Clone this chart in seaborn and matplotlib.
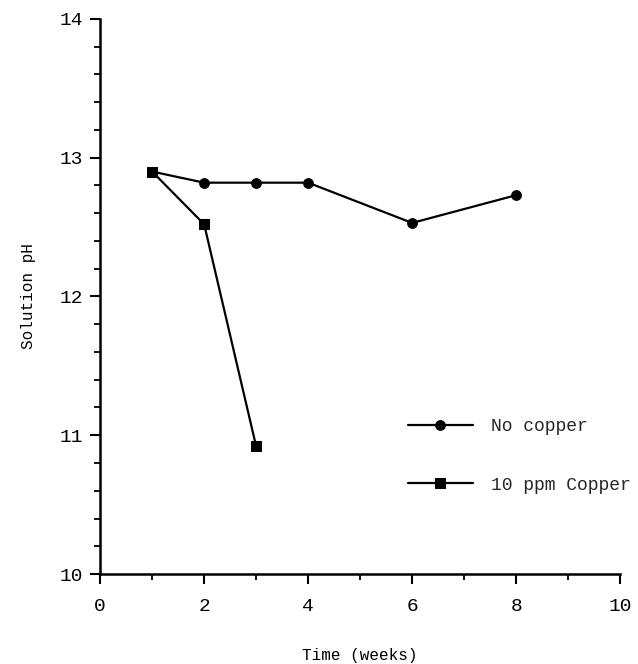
import matplotlib
matplotlib.use("Agg")
import matplotlib.pyplot as plt
import seaborn as sns
import pandas as pd
from matplotlib.ticker import MultipleLocator

sns.set_theme(style="white")
plt.rcParams['font.family'] = ['Liberation Mono', 'DejaVu Sans']

weeks_no_cu = [1, 2, 3, 4, 6, 8]
ph_no_cu = [12.90, 12.82, 12.82, 12.82, 12.53, 12.73]
weeks_cu = [1, 2, 3]
ph_cu = [12.90, 12.52, 10.92]
labels = ["No copper", "10 ppm Copper"]

df = pd.concat([
    pd.DataFrame({"week": weeks_no_cu, "ph": ph_no_cu, "series": labels[0]}),
    pd.DataFrame({"week": weeks_cu, "ph": ph_cu, "series": labels[1]}),
])

fig = plt.figure(figsize=(6.38, 6.64), dpi=100)
ax = fig.add_axes([0.157, 0.1355, 0.815, 0.836])

sns.lineplot(data=df, x="week", y="ph", hue="series", style="series",
             markers={labels[0]: "o", labels[1]: "s"}, dashes=False,
             palette={labels[0]: "black", labels[1]: "black"},
             markersize=7, linewidth=1.6, markeredgecolor="black", ax=ax)

ax.set_xlim(0, 10)
ax.set_ylim(10, 14)
ax.xaxis.set_major_locator(MultipleLocator(2))
ax.xaxis.set_minor_locator(MultipleLocator(1))
ax.yaxis.set_major_locator(MultipleLocator(1))
ax.yaxis.set_minor_locator(MultipleLocator(0.2))
for s in ["top", "right"]:
    ax.spines[s].set_visible(False)
for s in ["left", "bottom"]:
    ax.spines[s].set_color("black")
    ax.spines[s].set_linewidth(1.8)
ax.tick_params(axis="both", which="major", direction="out", length=7, width=1.5,
               colors="black", labelsize=14, left=True, bottom=True)
ax.tick_params(axis="x", which="major", pad=10)
ax.tick_params(axis="y", which="major", pad=5)
ax.tick_params(axis="both", which="minor", direction="out", length=4, width=1.3,
               colors="black", left=True, bottom=True)
ax.set_xlabel("Time (weeks)", fontsize=11.5, color="black", labelpad=24)
ax.set_ylabel("Solution pH", fontsize=11.5, color="black", labelpad=17)

leg = ax.legend(loc="upper left", bbox_to_anchor=(0.56, 0.31), frameon=False,
                fontsize=13, handlelength=3.6, labelspacing=2.3, handletextpad=1.0)

fig.savefig("out.png", dpi=100)
